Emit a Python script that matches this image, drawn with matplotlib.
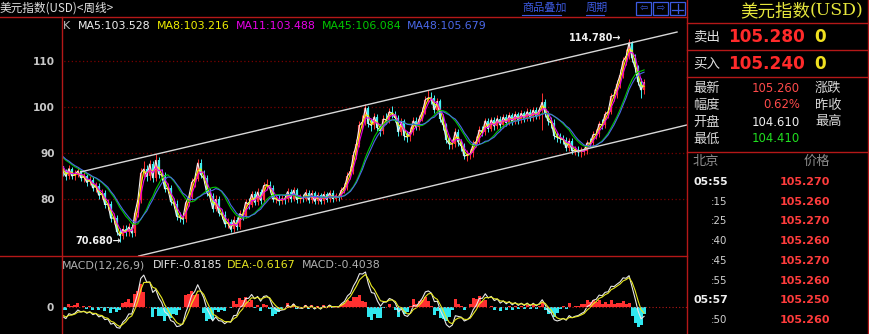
import numpy as np
import pandas as pd
import matplotlib
matplotlib.use("Agg")
import matplotlib.pyplot as plt
from matplotlib.lines import Line2D
from matplotlib.patches import Rectangle

plt.rcParams['font.family'] = ['DejaVu Sans', 'Noto Sans CJK SC']
CJK = ['Noto Sans CJK SC', 'DejaVu Sans']

W, H = 869, 334

# closes just before the visible window (only used to seed the averages)
prior_close = [92.0, 91.6, 91.0, 90.8, 90.2, 89.9, 89.4, 89.0, 88.6, 88.0, 87.2]

# weekly closes (one point per ~4-5 weeks), highs and lows
close = [86.0, 84.9, 86.6, 85.0, 85.3, 86.1, 84.6, 84.9, 83.6, 84.2,
         82.4, 82.9, 80.8, 81.2, 78.8, 78.9, 75.8, 75.9, 72.9, 72.0,
         73.4, 72.8, 73.9, 72.6, 76.9, 79.8, 85.6, 86.5, 84.9, 87.6,
         84.6, 88.4, 85.4, 85.2, 82.2, 82.3, 79.4, 79.0, 76.2, 76.0,
         75.6, 79.2, 80.4, 83.6, 84.4, 87.8, 85.3, 84.5, 81.4, 80.6,
         77.9, 79.9, 77.0, 76.6, 74.6, 74.9, 73.4, 75.4, 74.0, 76.8,
         76.4, 79.3, 78.8, 81.0, 79.3, 81.5, 79.7, 82.9, 83.1, 82.5,
         80.0, 80.1, 79.6, 80.0, 79.9, 81.6, 80.1, 81.9, 79.9, 80.3,
         80.1, 81.4, 79.8, 81.2, 79.5, 80.8, 79.5, 81.0, 79.9, 81.3,
         80.1, 80.6, 80.4, 81.9, 82.6, 85.0, 86.0, 89.6, 92.0, 96.0,
         96.8, 99.8, 96.4, 96.0, 97.9, 95.5, 94.8, 97.4, 97.2, 99.0,
         98.4, 97.6, 94.6, 96.9, 93.6, 93.5, 94.6, 97.0, 95.6, 97.5,
         99.0, 101.6, 102.0, 101.9, 99.4, 101.2, 97.5, 96.0, 92.9, 91.9,
         92.0, 94.6, 92.3, 91.5, 89.3, 89.6, 89.9, 92.0, 92.5, 95.0,
         94.5, 97.0, 95.3, 97.2, 95.8, 97.5, 96.0, 97.8, 96.6, 98.2,
         96.8, 98.4, 97.1, 98.6, 97.5, 99.0, 97.6, 99.3, 98.0, 99.4,
         101.0, 98.6, 96.9, 96.6, 93.7, 93.4, 93.1, 92.9, 91.1, 92.6,
         90.4, 90.7, 90.2, 90.4, 90.4, 92.2, 92.1, 94.0, 94.1, 96.3,
         96.1, 98.4, 99.0, 102.3, 102.6, 105.0, 107.0, 110.0, 111.0, 114.0,
         110.6, 108.6, 105.5, 103.7, 105.3]
high = [87.0, 86.6, 87.3, 87.0, 86.2, 86.9, 86.5, 85.8, 85.5, 85.0,
        84.8, 83.7, 83.5, 82.2, 81.9, 79.9, 79.6, 76.9, 76.6, 73.8,
        74.3, 74.4, 74.8, 74.6, 77.8, 81.0, 86.8, 88.2, 87.5, 88.5,
        88.3, 89.8, 89.2, 86.5, 85.9, 83.4, 83.0, 80.3, 79.8, 77.2,
        76.9, 80.0, 81.5, 84.5, 85.6, 88.8, 88.6, 86.4, 85.2, 82.4,
        81.3, 80.8, 80.6, 77.9, 77.3, 75.9, 75.6, 76.3, 76.1, 77.6,
        77.8, 80.1, 80.2, 81.8, 81.7, 82.3, 82.2, 83.7, 84.3, 83.9,
        83.1, 81.0, 80.9, 80.8, 80.9, 82.3, 82.2, 82.6, 82.5, 81.1,
        81.0, 82.1, 82.0, 81.9, 81.8, 81.5, 81.4, 81.7, 81.6, 82.0,
        81.9, 81.3, 81.2, 82.6, 83.5, 85.8, 87.2, 90.4, 93.1, 96.9,
        98.2, 100.6, 100.3, 97.5, 98.8, 98.4, 96.4, 98.2, 98.6, 99.8,
        100.3, 99.2, 98.3, 97.7, 97.4, 94.7, 95.6, 97.8, 97.9, 98.3,
        100.1, 102.4, 103.8, 103.2, 102.6, 102.0, 101.8, 98.4, 96.6, 93.8,
        93.1, 95.4, 95.2, 93.0, 92.1, 90.6, 90.9, 92.8, 93.6, 95.8,
        95.9, 97.7, 97.6, 97.9, 97.8, 98.2, 98.1, 98.5, 98.4, 98.9,
        98.8, 99.1, 99.0, 99.3, 99.2, 99.7, 99.6, 100.0, 99.9, 100.1,
        103.0, 101.8, 99.2, 97.8, 97.3, 94.6, 94.3, 94.0, 93.5, 93.3,
        93.2, 91.6, 91.5, 91.2, 91.4, 92.9, 93.2, 94.8, 95.2, 97.0,
        97.4, 99.2, 100.1, 103.0, 104.0, 105.8, 108.2, 110.8, 112.6, 114.8,
        114.4, 111.6, 109.2, 106.4, 106.0]
low = [85.0, 84.2, 84.4, 84.3, 84.2, 84.8, 83.9, 83.7, 82.8, 83.0,
       81.7, 81.6, 80.0, 80.1, 78.0, 77.6, 75.0, 74.6, 72.1, 70.7,
       71.3, 71.9, 72.0, 71.8, 72.0, 76.1, 79.2, 84.8, 84.0, 84.2,
       83.8, 84.0, 84.6, 84.2, 81.5, 81.2, 78.7, 78.0, 75.5, 74.9,
       74.5, 75.0, 78.4, 79.8, 82.7, 83.9, 84.5, 83.5, 80.7, 79.6,
       77.1, 77.3, 76.3, 75.6, 73.9, 73.8, 72.8, 72.9, 73.3, 73.5,
       75.5, 75.9, 77.9, 78.2, 78.6, 78.8, 79.0, 79.2, 82.0, 81.6,
       79.3, 79.1, 78.8, 78.9, 79.0, 79.3, 79.4, 79.6, 79.2, 79.2,
       79.3, 79.6, 79.1, 79.2, 78.9, 78.9, 78.9, 78.9, 79.3, 79.3,
       79.4, 79.5, 79.6, 79.9, 81.2, 82.0, 84.3, 85.5, 88.8, 91.4,
       95.0, 96.0, 95.6, 94.8, 95.3, 94.7, 93.7, 94.1, 96.3, 96.5,
       97.6, 96.7, 93.8, 94.0, 92.8, 92.3, 92.7, 94.0, 94.9, 95.0,
       96.9, 98.4, 100.8, 100.7, 98.6, 98.8, 96.7, 95.0, 92.1, 90.8,
       90.9, 91.4, 91.6, 90.5, 88.6, 88.3, 88.7, 89.2, 91.2, 91.9,
       93.6, 93.9, 94.6, 94.7, 95.1, 95.2, 95.3, 95.4, 95.9, 96.0,
       96.1, 96.2, 96.4, 96.5, 96.8, 96.9, 96.9, 97.0, 97.3, 97.4,
       95.0, 97.8, 96.1, 95.5, 93.0, 92.4, 92.2, 91.9, 90.4, 90.5,
       89.7, 89.5, 89.4, 89.2, 89.5, 89.8, 91.2, 91.5, 93.1, 93.5,
       95.2, 95.5, 97.6, 98.4, 101.4, 102.0, 104.2, 106.3, 109.1, 110.4,
       109.8, 107.6, 104.7, 102.0, 102.9]

ma_names = ['MA5', 'MA8', 'MA11', 'MA45', 'MA48']
ma_windows = [1, 2, 3, 10, 11]
ma_colors = ['#f0f0f0', '#f0f000', '#e800e8', '#00c800', '#4a68e8']
ma_labels = ['MA5:103.528', 'MA8:103.216', 'MA11:103.488', 'MA45:106.084', 'MA48:105.679']

# hand drawn channel lines (index, value)
upper_line = [(6, 85.9), (205, 116.3)]
lower_line = [(25.3, 67.6), (208.3, 96.1)]

macd_labels = ['MACD(12,26,9)', 'DIFF:-0.8185', 'DEA:-0.6167', 'MACD:-0.4038']

quote_rows = [('最新', '105.260', '#ff4a4a', '涨跌'),
              ('幅度', '0.62%', '#ff4a4a', '昨收'),
              ('开盘', '104.610', '#f0f0f0', '最高'),
              ('最低', '104.410', '#20e020', '')]
tick_times = ['05:55', ':15', ':25', ':40', ':45', ':55', '05:57', ':50']
tick_prices = ['105.270', '105.260', '105.270', '105.260', '105.270', '105.260', '105.250', '105.260']

RED = '#b41818'
GRID = '#7a0000'

fig = plt.figure(figsize=(W / 100, H / 100), dpi=100, facecolor='black')


def fx(x):
    return x / W


def fy(y):
    return 1 - y / H


def hline(y, x0, x1, **kw):
    fig.add_artist(Line2D([fx(x0), fx(x1)], [fy(y), fy(y)], transform=fig.transFigure, **kw))


def vline(x, y0, y1, **kw):
    fig.add_artist(Line2D([fx(x), fx(x)], [fy(y0), fy(y1)], transform=fig.transFigure, **kw))


def ftext(x, y, s, **kw):
    kw.setdefault('va', 'center')
    fig.text(fx(x), fy(y), s, **kw)


n = len(close)
k = len(prior_close)
x = np.arange(n)
c = np.array(close)
o = np.r_[prior_close[-1], c[:-1]]
up = c >= o
col = np.where(up, '#ff3030', '#40f0f0')

# ---------------- main K chart ----------------
ax = fig.add_axes([fx(62), fy(256), fx(687) - fx(62), fy(17) - fy(256)])
ax.set_facecolor('black')
for s in ax.spines.values():
    s.set_visible(False)
ax.set_xlim(-0.3, (687 - 62) / 3)
ax.set_ylim(67.61, 119.57)
ax.hlines([80, 90, 100, 110], -1, 300, colors=GRID, linestyles=(0, (1, 2)), lw=0.9)
ax.set_yticks([80, 90, 100, 110])
ax.set_xticks([])
ax.tick_params(axis='y', length=0, pad=5, labelsize=7.6, labelcolor='#c8c8c8')
for t in ax.get_yticklabels():
    t.set_fontweight('bold')

ax.vlines(x, low, high, colors=col, lw=0.7)
ax.vlines(x, np.minimum(o, c), np.maximum(o, c), colors=col, lw=1.6)

s_all = pd.Series(prior_close + close)
for w, cl in zip(ma_windows, ma_colors):
    ma = s_all.rolling(w, min_periods=1).mean().to_numpy()[k:]
    ax.plot(x, ma, color=cl, lw=0.8)

ax.plot([p[0] for p in upper_line], [p[1] for p in upper_line], color='#d8d8d8', lw=1.0)
ax.plot([p[0] for p in lower_line], [p[1] for p in lower_line], color='#d8d8d8', lw=1.0)

ax.text(186.3, 115.0, '114.780→', color='#f0f0f0', fontsize=7, fontweight='bold',
        ha='right', va='center')
ax.text(19.5, 70.87, '70.680→', color='#f0f0f0', fontsize=7, fontweight='bold',
        ha='right', va='center')

# ---------------- MACD ----------------
ax2 = fig.add_axes([fx(62), 0, fx(687) - fx(62), fy(256)])
ax2.set_facecolor('black')
for s in ax2.spines.values():
    s.set_visible(False)
ema_f = s_all.ewm(span=3, adjust=False).mean()
ema_s = s_all.ewm(span=6, adjust=False).mean()
diff_all = ema_f - ema_s
dea_all = diff_all.ewm(span=3, adjust=False).mean()
diff = diff_all.to_numpy()[k:]
dea = dea_all.to_numpy()[k:]
hist = 2 * (diff - dea)
ax2.bar(x, hist, width=1.0, color=np.where(hist >= 0, '#ff3030', '#30e8f0'), lw=0)
ax2.plot(x, diff, color='#e8e8e8', lw=0.8)
ax2.plot(x, dea, color='#e8e820', lw=0.8)
top = max(diff.max(), dea.max()) * 51 / 35
ax2.set_ylim(-top * 27 / 51, top)
ax2.set_xlim(-0.3, (687 - 62) / 3)
ax2.axhline(0, color=RED, ls=(0, (1, 2)), lw=0.8)
ax2.set_yticks([0])
ax2.set_xticks([])
ax2.tick_params(axis='y', length=0, pad=6, labelsize=7.6, labelcolor='#c8c8c8')
for t in ax2.get_yticklabels():
    t.set_fontweight('bold')

# ---------------- frame lines ----------------
hline(16.5, 0, 687, color=RED, lw=1.0)
hline(256, 0, 687, color=RED, lw=1.0)
vline(61.5, 16.5, 334, color=RED, lw=1.0)
vline(687, 0, 334, color=RED, lw=1.0)
vline(868, 0, 334, color=RED, lw=1.0)
for yy in [23, 50, 77, 152]:
    hline(yy, 687, 869, color=RED, lw=1.0)

# ---------------- header texts ----------------
ftext(0, 8, '美元指数(USD)<周线>', color='#e0e0e0', fontsize=8.4, family=CJK)
ftext(63, 26, 'K', color='#c0c0c0', fontsize=7.9)
for xx, lab, cl in zip([78, 157, 236, 322, 407], ma_labels, ma_colors):
    ftext(xx, 26, lab, color=cl, fontsize=7.9)
for xx, lab, cl in zip([62, 153, 227, 302], macd_labels, ['#b0b0b0', '#e8e8e8', '#e8e820', '#b0b0b0']):
    ftext(xx, 265, lab, color=cl, fontsize=7.9)

ftext(522, 8, '商品叠加', color='#3c5ae0', fontsize=8, family=CJK)
hline(15, 522, 561, color='#3c5ae0', lw=0.8)
ftext(586, 8, '周期', color='#3c5ae0', fontsize=8, family=CJK)
hline(15, 586, 604, color='#3c5ae0', lw=0.8)
for bx, sym in zip([636, 653, 670], ['⇦', '⇨', '']):
    fig.add_artist(Rectangle((fx(bx), fy(15)), fx(15), fy(2) - fy(15), transform=fig.transFigure,
                             fill=False, edgecolor='#3c5ae0', lw=0.9))
    if sym:
        ftext(bx + 7.5, 8.5, sym, color='#3c5ae0', fontsize=7, ha='center')
vline(677.5, 4, 13, color='#3c5ae0', lw=0.9)
hline(10, 672, 683, color='#3c5ae0', lw=0.9)

# ---------------- right panel ----------------
ftext(740, 11, '美元指数', color='#e6e63c', fontsize=12.6, family=CJK)
ftext(810, 11, '(USD)', color='#e6e63c', fontsize=12.4, family=['DejaVu Serif'])
ftext(693, 37, '卖出', color='#e0e0e0', fontsize=9.7, family=CJK)
ftext(728, 37, '105.280', color='#ff2a2a', fontsize=12.2, fontweight='bold')
ftext(814, 37, '0', color='#f0e020', fontsize=12.2, fontweight='bold')
ftext(693, 64, '买入', color='#e0e0e0', fontsize=9.7, family=CJK)
ftext(728, 64, '105.240', color='#ff2a2a', fontsize=12.2, fontweight='bold')
ftext(814, 64, '0', color='#f0e020', fontsize=12.2, fontweight='bold')

for yy, (lab, val, cl, lab2) in zip([88, 105, 122, 139], quote_rows):
    ftext(693, yy, lab, color='#d8d8d8', fontsize=9.5, family=CJK)
    ftext(800, yy, val, color=cl, fontsize=8.4, ha='right')
    if lab2:
        ftext(815, yy, lab2, color='#d8d8d8', fontsize=9.5, family=CJK)

ftext(693, 161, '北京', color='#8c8c8c', fontsize=9.5, family=CJK)
ftext(830, 161, '价格', color='#8c8c8c', fontsize=9.5, family=CJK, ha='right')
for i, (tt, pp) in enumerate(zip(tick_times, tick_prices)):
    yy = 182 + i * 19.7
    if tt.startswith(':'):
        ftext(727, yy, tt, color='#d0d0d0', fontsize=7.4, ha='right')
    else:
        ftext(693, yy, tt, color='#f0f0f0', fontsize=7.9, fontweight='bold')
    ftext(830, yy, pp, color='#ff3c3c', fontsize=8, fontweight='bold', ha='right')

fig.savefig('out.png', dpi=100, facecolor='black')
